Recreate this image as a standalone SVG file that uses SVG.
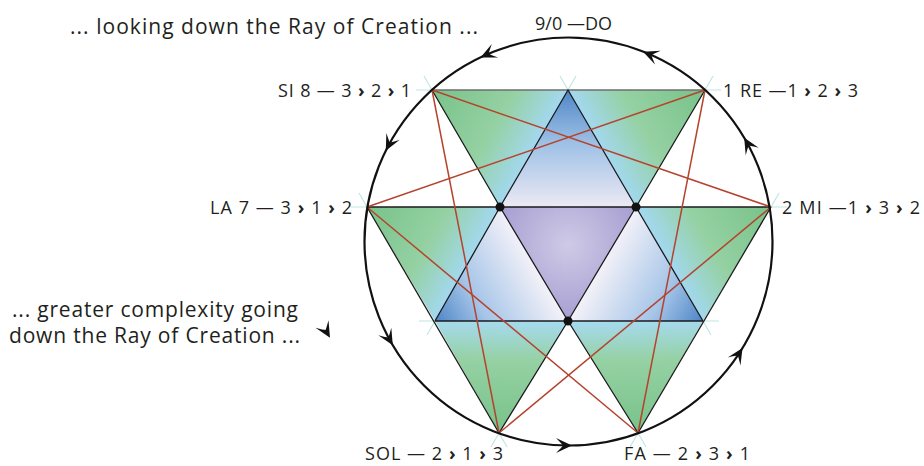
<svg xmlns="http://www.w3.org/2000/svg" width="924" height="466" viewBox="0 0 924 466">
<style>
.t{font-family:"Open Sans","Noto Sans","Liberation Sans",sans-serif;fill:#231f20}
.lbl{font-size:18px}
.cap{font-size:21px}
.b{font-weight:700}
.lat{stroke:#1a1a1a;stroke-width:1.3;fill:none;stroke-linejoin:round}
.red{stroke:#b5432d;stroke-width:1.5;fill:none}
.tick{stroke:#a6dcd6;stroke-width:1.2;fill:none;opacity:0.7}
.ar{fill:#111}
</style>
<defs>
<path id="ah" d="M2,0 L-14,-7.5 Q-8,-1.5 -7,0 Q-8,1.5 -14,7.5 Z"/>
<linearGradient id="g1" gradientUnits="userSpaceOnUse" x1="432" y1="90" x2="534" y2="148.5"><stop offset="0" stop-color="#78c28a"/><stop offset="0.62" stop-color="#95d1a3"/><stop offset="1" stop-color="#a3d8ef"/></linearGradient>
<linearGradient id="g2" gradientUnits="userSpaceOnUse" x1="705" y1="90" x2="602" y2="148.5"><stop offset="0" stop-color="#78c28a"/><stop offset="0.62" stop-color="#95d1a3"/><stop offset="1" stop-color="#a3d8ef"/></linearGradient>
<linearGradient id="g3" gradientUnits="userSpaceOnUse" x1="367" y1="207" x2="467.5" y2="264"><stop offset="0" stop-color="#78c28a"/><stop offset="0.62" stop-color="#95d1a3"/><stop offset="1" stop-color="#a3d8ef"/></linearGradient>
<linearGradient id="g4" gradientUnits="userSpaceOnUse" x1="771" y1="207" x2="669.5" y2="264"><stop offset="0" stop-color="#78c28a"/><stop offset="0.62" stop-color="#95d1a3"/><stop offset="1" stop-color="#a3d8ef"/></linearGradient>
<linearGradient id="g5" gradientUnits="userSpaceOnUse" x1="499" y1="433" x2="501" y2="321"><stop offset="0" stop-color="#78c28a"/><stop offset="0.65" stop-color="#95d1a3"/><stop offset="1" stop-color="#a6daef"/></linearGradient>
<linearGradient id="g6" gradientUnits="userSpaceOnUse" x1="638" y1="433" x2="636" y2="321"><stop offset="0" stop-color="#78c28a"/><stop offset="0.65" stop-color="#95d1a3"/><stop offset="1" stop-color="#a6daef"/></linearGradient>
<linearGradient id="bT" gradientUnits="userSpaceOnUse" x1="568" y1="90" x2="568" y2="207"><stop offset="0" stop-color="#4f86c7"/><stop offset="0.45" stop-color="#9dc0e5"/><stop offset="1" stop-color="#ece9f4"/></linearGradient>
<linearGradient id="bL" gradientUnits="userSpaceOnUse" x1="435" y1="321" x2="534" y2="264"><stop offset="0" stop-color="#4d85c6"/><stop offset="0.4" stop-color="#a5c5e8"/><stop offset="1" stop-color="#f3f1f8"/></linearGradient>
<linearGradient id="bR" gradientUnits="userSpaceOnUse" x1="703" y1="321" x2="602" y2="264"><stop offset="0" stop-color="#4d85c6"/><stop offset="0.4" stop-color="#a5c5e8"/><stop offset="1" stop-color="#f3f1f8"/></linearGradient>
<radialGradient id="pu" gradientUnits="userSpaceOnUse" cx="568" cy="245" r="80"><stop offset="0" stop-color="#cfcae7"/><stop offset="1" stop-color="#a49cd0"/></radialGradient>
</defs>

<g id="title">
<text class="t cap" x="70" y="34" textLength="408" lengthAdjust="spacing">... looking down the Ray of Creation ...</text>
</g>
<g id="note">
<text class="t cap" x="12" y="317" textLength="286" lengthAdjust="spacing">... greater complexity going</text>
<text class="t cap" x="9" y="343" textLength="291" lengthAdjust="spacing">down the Ray of Creation ...</text>
<use href="#ah" class="ar" transform="translate(329,336) rotate(60)"/>
</g>

<g id="figure">
<polygon points="432,90 568,90 500,207" fill="url(#g1)"/>
<polygon points="568,90 705,90 636,207" fill="url(#g2)"/>
<polygon points="568,90 500,207 636,207" fill="url(#bT)"/>
<polygon points="367,207 500,207 435,321" fill="url(#g3)"/>
<polygon points="500,207 636,207 568,321" fill="url(#pu)"/>
<polygon points="636,207 771,207 703,321" fill="url(#g4)"/>
<polygon points="500,207 435,321 568,321" fill="url(#bL)"/>
<polygon points="636,207 568,321 703,321" fill="url(#bR)"/>
<polygon points="435,321 568,321 499,433" fill="url(#g5)"/>
<polygon points="568,321 703,321 638,433" fill="url(#g6)"/>
</g>

<g id="ticks">
<path class="tick" d="M432,90 h-16 M432,90 l-8,-14 M705,90 h16 M705,90 l8,-14 M568,90 l-8,-14 M568,90 l8,-14 M367,207 h-16 M367,207 l-8,-14 M771,207 h16 M771,207 l8,-14 M435,321 h-16 M435,321 l-8,14 M703,321 h16 M703,321 l8,14 M499,433 l-8,14 M499,433 l8,14 M638,433 l-8,14 M638,433 l8,14"/>
</g>

<g id="connectors">
<line x1="432" y1="90" x2="705" y2="90" stroke="#6e6e6e" stroke-width="1.6"/>
<line class="lat" x1="367" y1="207" x2="771" y2="207"/>
<line class="lat" x1="435" y1="321" x2="703" y2="321"/>
<polyline class="lat" points="432,90 500,207 568,321 638,433"/>
<polyline class="lat" points="705,90 636,207 568,321 499,433"/>
<polyline class="lat" points="435,321 500,207 568,90 636,207 703,321"/>
<line class="lat" x1="367" y1="207" x2="499" y2="433"/>
<line class="lat" x1="771" y1="207" x2="638" y2="433"/>
<line class="red" x1="432" y1="90" x2="771" y2="207"/>
<line class="red" x1="705" y1="90" x2="367" y2="207"/>
<line class="red" x1="432" y1="90" x2="499" y2="433"/>
<line class="red" x1="705" y1="90" x2="638" y2="433"/>
<line class="red" x1="367" y1="207" x2="638" y2="433"/>
<line class="red" x1="771" y1="207" x2="499" y2="433"/>
</g>

<g id="circle">
<circle cx="568.5" cy="241.5" r="204" fill="none" stroke="#111" stroke-width="2.2"/>
<use href="#ah" class="ar" transform="translate(482.3,56.6) rotate(155)"/>
<use href="#ah" class="ar" transform="translate(644.9,52.4) rotate(-158)"/>
<use href="#ah" class="ar" transform="translate(386.7,148.9) rotate(117)"/>
<use href="#ah" class="ar" transform="translate(745.2,139.5) rotate(-120)"/>
<use href="#ah" class="ar" transform="translate(391.8,343.5) rotate(60)"/>
<use href="#ah" class="ar" transform="translate(741.5,349.6) rotate(-58)"/>
<use href="#ah" class="ar" transform="translate(570,445.5) rotate(0)"/>
</g>

<g id="dots">
<circle cx="500" cy="207" r="4.5" fill="#111"/>
<circle cx="636" cy="207" r="4.5" fill="#111"/>
<circle cx="568" cy="321" r="4.5" fill="#111"/>
</g>

<g id="labels">
<text class="t lbl" x="535" y="30" textLength="77" lengthAdjust="spacing">9/0 —DO</text>
<text class="t lbl" x="278" y="97" textLength="133" lengthAdjust="spacing">SI 8 — 3 <tspan class="b">›</tspan> 2 <tspan class="b">›</tspan> 1</text>
<text class="t lbl" x="723" y="97" textLength="135" lengthAdjust="spacing">1 RE —1 <tspan class="b">›</tspan> 2 <tspan class="b">›</tspan> 3</text>
<text class="t lbl" x="210" y="214" textLength="142" lengthAdjust="spacing">LA 7 — 3 <tspan class="b">›</tspan> 1 <tspan class="b">›</tspan> 2</text>
<text class="t lbl" x="782" y="214" textLength="138" lengthAdjust="spacing">2 MI —1 <tspan class="b">›</tspan> 3 <tspan class="b">›</tspan> 2</text>
<text class="t lbl" x="365" y="460" textLength="138" lengthAdjust="spacing">SOL — 2 <tspan class="b">›</tspan> 1 <tspan class="b">›</tspan> 3</text>
<text class="t lbl" x="624" y="460" textLength="126" lengthAdjust="spacing">FA — 2 <tspan class="b">›</tspan> 3 <tspan class="b">›</tspan> 1</text>
</g>
</svg>
